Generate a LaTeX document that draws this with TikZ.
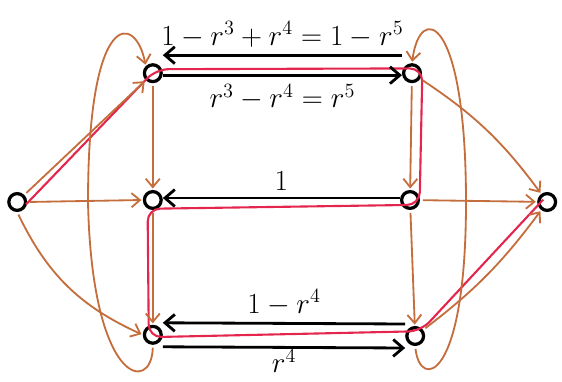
\documentclass[tikz,border=0pt]{standalone}
\usepackage{amsmath,amssymb}
\usepackage{tikz}
\usetikzlibrary{arrows.meta, positioning, calc}

\definecolor{brn}{RGB}{196,110,62}
\definecolor{rd}{RGB}{228,38,78}

\begin{document}
\begin{tikzpicture}[font=\huge,
    state/.style={circle, draw, line width=2.3pt, minimum size=0.42cm, inner sep=0pt},
    brw/.style={brn, line width=1.3pt, -{Straight Barb[length=6pt,width=10pt]}, shorten >=1pt, shorten <=2pt},
    blk/.style={line width=2pt, -{Straight Barb[length=7pt,width=12pt]}},
    redline/.style={rd, line width=1.5pt, rounded corners=9pt}]
        \useasboundingbox (0,0) rectangle (14.05,9.55);

        \node[state] (s) at (0.43,4.5) {};
        \node[state] (a1) at (3.82,7.72) {};
        \node[state] (a2) at (3.82,4.55) {};
        \node[state] (a3) at (3.82,1.18) {};
        \node[state] (b1) at (10.3,7.72) {};
        \node[state] (b2) at (10.25,4.55) {};
        \node[state] (b3) at (10.38,1.15) {};
        \node[state] (t) at (13.68,4.5) {};

        % highlighted path
        \draw[redline] ($(s)+(0.22,-0.06)$) -- ($(a1)+(0.08,0.1)$) -- ($(b1)+(0.26,0.12)$)
            -- ($(b2)+(0.24,-0.12)$) -- ($(a2)+(-0.13,-0.22)$) -- ($(a3)+(-0.1,-0.06)$)
            -- ($(b3)+(0.14,0.12)$) -- ($(t)+(-0.1,0.06)$);

        % brown edges
        \draw[brw] (s.north east) -- (a1.south west);
        \draw[brw] (s.east) -- (a2.west);
        \draw[brw] (s.south) to[bend right=20] (a3.west);
        \draw[brw] (a1) -- (a2);
        \draw[brw] (a2) -- (a3);
        \draw[brw] (b1) -- (b2);
        \draw[brw] (b2) -- (b3);
        \draw[brw] (b1) to[bend left=10] (t);
        \draw[brw] (b2) -- (t);
        \draw[brw] (b3) to[bend right=8] (t);
        \draw[brw] (a3.south) .. controls (3.8,-0.3) and (2.3,-0.1) .. (2.2,4.5)
            .. controls (2.2,9.4) and (3.4,9.2) .. (a1.north west);
        \draw[brw] (b3.south) .. controls (10.5,-0.2) and (11.65,0.0) .. (11.65,4.5)
            .. controls (11.65,9.2) and (10.5,9.5) .. (b1.north);

        % black edges
        \draw[blk] ([yshift=0.45cm]b1.west) -- node[above=1pt] {$1-r^3+r^4=1-r^5$} ([yshift=0.45cm]a1.east);
        \draw[blk] ([yshift=-0.05cm]a1.east) -- node[below=2pt] {$r^3-r^4 = r^5$} ([yshift=-0.05cm]b1.west);
        \draw[blk] ([yshift=0.05cm]b2.west) -- node[above=1pt] {$1$} ([yshift=0.05cm]a2.east);
        \draw[blk] ([yshift=0.3cm]b3.west) -- node[above=1pt] {$1-r^4$} ([yshift=0.3cm]a3.east);
        \draw[blk] ([yshift=-0.3cm]a3.east) -- node[below=-3pt] {$r^4$} ([yshift=-0.3cm]b3.west);
\end{tikzpicture}
\end{document}
